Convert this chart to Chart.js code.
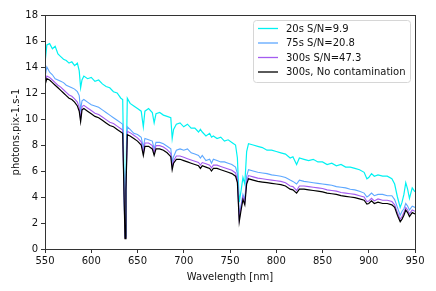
<!DOCTYPE html>
<html>
<head>
<meta charset="utf-8">
<script src="https://cdn.jsdelivr.net/npm/chart.js@4/dist/chart.umd.min.js"></script>
<style>
  body { margin: 0; background: #fff; }
</style>
</head>
<body>
<canvas id="myChart" width="436" height="291"></canvas>
<script>
// wavelengths in nm, shared by all series
const wavelengths = [550, 552, 555, 558, 561, 564, 567, 570, 573, 576, 579, 582, 585, 587, 588.5, 590, 592, 596, 600, 604,
  608, 612, 616, 620, 624, 628, 632, 634, 635.5, 636.5, 637.5, 639, 642, 646, 650, 654, 656.3, 658, 662, 666,
  668, 670, 674, 678, 682, 686, 687.5, 689, 692, 696, 700, 704, 708, 712, 716, 718, 720, 724, 728, 730,
  732, 736, 740, 744, 748, 752, 756, 758, 760, 762, 764, 766, 768, 770, 775, 780, 785, 790, 795, 800,
  805, 810, 815, 818, 822, 825, 830, 835, 840, 845, 850, 855, 860, 865, 870, 875, 880, 885, 890, 895,
  898, 900, 903, 906, 910, 915, 920, 925, 928, 931, 934, 936, 938, 940, 942, 944, 947, 950]

const flux20s = [14.3, 15.7, 15.8, 15.4, 15.6, 15.0, 14.8, 14.6, 14.5, 14.3, 14.4, 14.1, 14.3, 13.7, 12.4, 13.0, 13.3, 13.1, 13.2, 12.9,
  13.0, 12.7, 12.5, 12.4, 12.1, 12.0, 11.6, 11.5, 5.0, 1.0, 5.5, 11.6, 11.2, 11.0, 10.8, 10.6, 9.4, 10.6, 10.8, 10.5,
  9.7, 10.4, 10.5, 10.3, 10.2, 10.1, 8.5, 9.2, 9.6, 9.7, 9.4, 9.6, 9.3, 9.3, 9.0, 9.2, 9.0, 8.7, 8.9, 8.6,
  8.7, 8.5, 8.6, 8.3, 8.4, 8.2, 8.0, 7.0, 3.6, 4.5, 5.5, 5.0, 7.5, 8.1, 8.0, 7.9, 7.8, 7.6, 7.6, 7.5,
  7.4, 7.3, 7.0, 7.1, 6.5, 7.0, 6.9, 6.8, 6.9, 6.7, 6.7, 6.5, 6.6, 6.4, 6.5, 6.3, 6.3, 6.2, 6.1, 5.9,
  5.4, 5.5, 5.8, 5.6, 5.7, 5.6, 5.6, 5.4, 5.0, 4.0, 3.2, 3.6, 4.2, 5.1, 4.6, 3.9, 4.7, 4.4]

const flux75s = [13.2, 14.0, 13.6, 13.4, 13.1, 13.0, 12.9, 12.8, 12.6, 12.5, 12.4, 12.3, 12.1, 11.8, 10.7, 11.4, 11.5, 11.3, 11.1, 11.0,
  10.9, 10.7, 10.5, 10.3, 10.1, 9.9, 9.7, 9.6, 4.3, 0.9, 4.8, 9.4, 9.2, 8.9, 8.8, 8.6, 7.8, 8.5, 8.4, 8.3,
  7.7, 8.2, 8.2, 8.1, 7.9, 7.7, 6.7, 7.1, 7.6, 7.7, 7.6, 7.7, 7.4, 7.3, 7.2, 7.0, 7.2, 6.8, 6.9, 6.6,
  6.9, 6.8, 6.7, 6.7, 6.6, 6.5, 6.3, 5.8, 2.6, 3.4, 4.2, 3.8, 5.6, 6.1, 6.0, 5.9, 5.85, 5.8, 5.7, 5.65,
  5.6, 5.5, 5.3, 5.2, 5.0, 5.3, 5.2, 5.15, 5.1, 5.05, 5.0, 4.95, 4.9, 4.8, 4.75, 4.7, 4.6, 4.55, 4.45, 4.3,
  4.0, 4.1, 4.3, 4.1, 4.2, 4.2, 4.1, 4.1, 3.8, 3.2, 2.6, 2.9, 3.1, 3.5, 3.3, 3.0, 3.3, 3.2]

const flux300s = [12.8, 13.3, 13.2, 13.0, 12.8, 12.6, 12.45, 12.25, 12.05, 11.85, 11.75, 11.55, 11.3, 10.9, 10.0, 10.95, 11.05, 10.85, 10.65, 10.45,
  10.35, 10.15, 9.95, 9.75, 9.65, 9.45, 9.25, 9.15, 4.1, 0.85, 4.6, 9.05, 8.95, 8.75, 8.55, 8.25, 7.4, 8.15, 8.15, 7.95,
  7.4, 7.95, 7.95, 7.85, 7.65, 7.35, 6.3, 6.8, 7.15, 7.15, 7.05, 6.95, 6.85, 6.75, 6.65, 6.45, 6.65, 6.55, 6.45, 6.25,
  6.45, 6.45, 6.35, 6.25, 6.15, 6.05, 5.85, 5.3, 2.3, 3.2, 4.0, 3.6, 5.2, 5.65, 5.55, 5.45, 5.4, 5.35, 5.3, 5.25,
  5.2, 5.1, 4.85, 4.8, 4.5, 4.85, 4.85, 4.8, 4.75, 4.7, 4.65, 4.55, 4.5, 4.45, 4.35, 4.3, 4.25, 4.2, 4.1, 4.0,
  3.65, 3.7, 3.9, 3.7, 3.85, 3.75, 3.75, 3.65, 3.4, 2.8, 2.3, 2.5, 2.8, 3.2, 3.0, 2.7, 3.0, 2.9]

const fluxClean = [12.6, 13.1, 13.0, 12.8, 12.6, 12.4, 12.2, 12.0, 11.8, 11.6, 11.5, 11.3, 11.0, 10.6, 9.8, 10.7, 10.8, 10.6, 10.4, 10.2,
  10.1, 9.9, 9.7, 9.5, 9.4, 9.2, 9.0, 8.9, 4.0, 0.8, 4.5, 8.8, 8.7, 8.5, 8.3, 8.0, 7.2, 7.9, 7.9, 7.7,
  7.2, 7.7, 7.7, 7.6, 7.4, 7.1, 6.1, 6.6, 6.9, 6.9, 6.8, 6.7, 6.6, 6.5, 6.4, 6.2, 6.4, 6.3, 6.2, 6.0,
  6.2, 6.2, 6.1, 6.0, 5.9, 5.8, 5.6, 5.1, 2.1, 3.0, 3.8, 3.4, 5.0, 5.4, 5.3, 5.2, 5.15, 5.1, 5.05, 5.0,
  4.95, 4.85, 4.6, 4.55, 4.3, 4.6, 4.6, 4.55, 4.5, 4.45, 4.4, 4.3, 4.25, 4.2, 4.1, 4.05, 4.0, 3.95, 3.85, 3.75,
  3.45, 3.5, 3.7, 3.5, 3.6, 3.5, 3.5, 3.4, 3.2, 2.6, 2.1, 2.3, 2.6, 3.0, 2.8, 2.5, 2.8, 2.7]

const seriesLabels = ['20s S/N=9.9', '75s S/N=20.8', '300s S/N=47.3', '300s, No contamination']
const seriesColors = ['#00f2f2', '#5ea8ff', '#a45cf0', '#000000']
const xTicks = [550, 600, 650, 700, 750, 800, 850, 900, 950]
const yTicks = [0, 2, 4, 6, 8, 10, 12, 14, 16, 18]

const font = 'DejaVu Sans'

// pair up x and y values
function toPoints(ys) {
  return wavelengths.map((w, i) => ({ x: w, y: ys[i] }))
}

// frame around the plot + legend in the top right corner
const framePlugin = {
  id: 'frame',
  afterDraw(chart) {
    const ctx = chart.ctx
    const a = chart.chartArea
    ctx.save()
    ctx.strokeStyle = '#333'
    ctx.lineWidth = 1
    ctx.strokeRect(Math.round(a.left) + 0.5, Math.round(a.top) + 0.5, Math.round(a.right - a.left), Math.round(a.bottom - a.top))

    // legend box
    const bx = 253.5, by = 20.5, bw = 157, bh = 62, r = 3
    ctx.beginPath()
    ctx.moveTo(bx + r, by)
    ctx.arcTo(bx + bw, by, bx + bw, by + bh, r)
    ctx.arcTo(bx + bw, by + bh, bx, by + bh, r)
    ctx.arcTo(bx, by + bh, bx, by, r)
    ctx.arcTo(bx, by, bx + bw, by, r)
    ctx.closePath()
    ctx.fillStyle = 'rgba(255,255,255,0.85)'
    ctx.fill()
    ctx.strokeStyle = '#d6d6d6'
    ctx.stroke()

    ctx.font = '10px "' + font + '"'
    ctx.textBaseline = 'middle'
    ctx.fillStyle = '#111'
    seriesLabels.forEach((label, i) => {
      const y = 28.5 + i * 14.5
      ctx.strokeStyle = seriesColors[i]
      ctx.lineWidth = 1.3
      ctx.beginPath()
      ctx.moveTo(258, y)
      ctx.lineTo(278, y)
      ctx.stroke()
      ctx.fillText(label, 286, y + 0.5)
    })
    ctx.restore()
  }
}

const ctx = document.querySelector('#myChart').getContext('2d')
const spectrum = new Chart(ctx, {
  type: 'line',
  data: {
    datasets: [
      { label: seriesLabels[0], data: toPoints(flux20s), borderColor: seriesColors[0], borderWidth: 1.2, order: 3 },
      { label: seriesLabels[1], data: toPoints(flux75s), borderColor: seriesColors[1], borderWidth: 1.1, order: 2 },
      { label: seriesLabels[2], data: toPoints(flux300s), borderColor: seriesColors[2], borderWidth: 1.1, order: 1 },
      { label: seriesLabels[3], data: toPoints(fluxClean), borderColor: seriesColors[3], borderWidth: 1.2, order: 0 }
    ]
  },
  options: {
    responsive: false,
    animation: false,
    layout: { padding: { top: 15, right: 21, left: 0, bottom: 0 } },
    elements: { point: { radius: 0 }, line: { tension: 0 } },
    plugins: { legend: { display: false }, tooltip: { enabled: false } },
    scales: {
      x: {
        type: 'linear',
        min: 550,
        max: 950,
        afterBuildTicks: s => { s.ticks = xTicks.map(v => ({ value: v })) },
        afterFit: s => { s.height = 42 },
        grid: { drawOnChartArea: false, tickLength: 4, color: '#333', tickColor: '#333' },
        border: { display: false },
        ticks: { color: '#111', font: { family: font, size: 10 }, padding: 2, maxRotation: 0 },
        title: { display: true, text: 'Wavelength [nm]', color: '#111', font: { family: font, size: 10 }, padding: { top: 0, bottom: 8 } }
      },
      y: {
        min: 0,
        max: 18,
        afterBuildTicks: s => { s.ticks = yTicks.map(v => ({ value: v })) },
        afterFit: s => { s.width = 45 },
        grid: { drawOnChartArea: false, tickLength: 4, color: '#333', tickColor: '#333' },
        border: { display: false },
        ticks: { color: '#111', font: { family: font, size: 10 }, padding: 3 },
        title: { display: true, text: 'photons.pix-1.s-1', color: '#111', font: { family: font, size: 10 }, padding: { top: 10, bottom: 2 } }
      }
    }
  },
  plugins: [framePlugin]
})
</script>
</body>
</html>
